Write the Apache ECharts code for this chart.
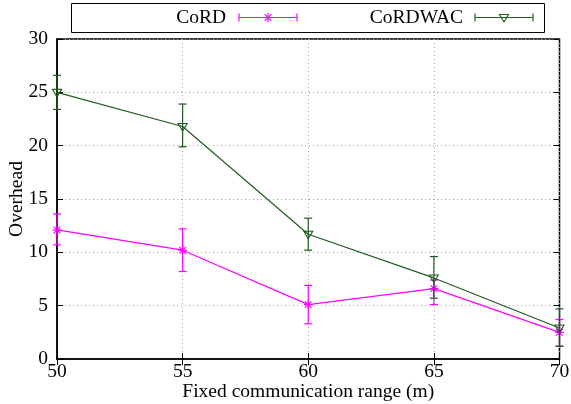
<!DOCTYPE html>
<html><head><meta charset="utf-8">
<script src="https://cdn.jsdelivr.net/npm/echarts@6/dist/echarts.min.js"></script>
<style>html,body{margin:0;padding:0;background:#fff}#c{width:571px;height:404px}</style>
</head><body><div id="c"></div>
<script>
const ranges = [50, 55, 60, 65, 70];
const cordVals = [12.1, 10.2, 5.1, 6.6, 2.5];
const cordLow = [10.7, 8.2, 3.3, 5.1, 1.2];
const cordHigh = [13.6, 12.2, 6.9, 7.4, 3.7];
const wacVals = [25.0, 21.8, 11.7, 7.6, 2.9];
const wacLow = [23.4, 19.9, 10.2, 5.7, 1.2];
const wacHigh = [26.6, 23.9, 13.2, 9.6, 4.7];
const xTicks = [50, 55, 60, 65, 70];
const yTicks = [0, 5, 10, 15, 20, 25, 30];

const MAG = '#ff00ff', GRN = '#1e5c1e';
const FONT = '"Liberation Serif", "DejaVu Serif", serif';
const FS = 19.5;

function ln(x1, y1, x2, y2, color, w) {
  return {type:'line', shape:{x1:x1, y1:y1, x2:x2, y2:y2}, style:{stroke:color, lineWidth:w || 1.2}};
}
function starShape(cx, cy, color) {
  const r = 4.5, d = 3.3;
  return {type:'group', children:[
    ln(cx-r, cy, cx+r, cy, color), ln(cx, cy-r, cx, cy+r, color),
    ln(cx-d, cy-d, cx+d, cy+d, color), ln(cx-d, cy+d, cx+d, cy-d, color)
  ]};
}
function triShape(cx, cy, color) {
  return {type:'polygon', shape:{points:[[cx-4.5,cy-3],[cx+4.5,cy-3],[cx,cy+4.5]]},
    style:{stroke:color, lineWidth:1.1, fill:'rgba(0,0,0,0)'}};
}
function errRender(color, marker) {
  return function(params, api) {
    const x = api.value(0), y = api.value(1), lo = api.value(2), hi = api.value(3);
    const p = api.coord([x, y]), pl = api.coord([x, lo]), ph = api.coord([x, hi]);
    const w = 4;
    return {type:'group', children:[
      ln(p[0], pl[1], p[0], ph[1], color),
      ln(p[0]-w, pl[1], p[0]+w, pl[1], color),
      ln(p[0]-w, ph[1], p[0]+w, ph[1], color),
      marker(p[0], p[1], color)
    ]};
  };
}
function zip4(a,b,c,d){return a.map((v,i)=>[v,b[i],c[i],d[i]]);}
function zip2(a,b){return a.map((v,i)=>[v,b[i]]);}

function legendItem(textRight, x1, x2, y, color, markerFn, label) {
  const mx = (x1 + x2) / 2;
  return [
    {type:'text', x: textRight, y: y, style:{text: label, font: FS + 'px ' + FONT, fill:'#000', textAlign:'right', textVerticalAlign:'middle'}},
    ln(x1, y, x2, y, color), ln(x1, y-4, x1, y+4, color), ln(x2, y-4, x2, y+4, color),
    markerFn(mx, y, color)
  ];
}

const chart = echarts.init(document.getElementById('c'), null, {renderer:'canvas'});
const axisLabelStyle = {fontFamily: FONT, fontSize: FS, color: '#000'};
chart.setOption({
  animation: false,
  backgroundColor: '#fff',
  grid: {left: 57, right: 11.5, top: 39, bottom: 45, containLabel: false, outerBoundsMode: 'none',
    show: true, borderColor: '#000', borderWidth: 1.5, backgroundColor: 'transparent'},
  xAxis: [{
    type: 'value', min: 50, max: 70, interval: 5,
    name: 'Fixed communication range (m)', nameLocation: 'middle', nameGap: 23, nameMoveOverlap: false,
    nameTextStyle: {fontFamily: FONT, fontSize: FS, color: '#000'},
    axisLine: {show: true, lineStyle: {color: '#000', width: 1.5}},
    axisTick: {show: true, inside: true, length: 6, lineStyle: {color: '#000', width: 1}},
    axisLabel: Object.assign({margin: 3, formatter: v => xTicks.includes(v) ? String(v) : ''}, axisLabelStyle),
    splitLine: {show: true, lineStyle: {color: '#a8a8a8', type: [1, 3], width: 1}}
  }, {
    type: 'value', position: 'top', min: 50, max: 70, interval: 5,
    axisLine: {show: false}, axisLabel: {show: false}, splitLine: {show: false},
    axisTick: {show: true, inside: true, length: 6, lineStyle: {color: '#000', width: 1}}
  }],
  yAxis: [{
    type: 'value', min: 0, max: 30, interval: 5,
    name: 'Overhead', nameLocation: 'middle', nameGap: 30, nameRotate: 90, nameMoveOverlap: false,
    nameTextStyle: {fontFamily: FONT, fontSize: FS, color: '#000'},
    axisLine: {show: true, lineStyle: {color: '#000', width: 1.5}},
    axisTick: {show: true, inside: true, length: 6, lineStyle: {color: '#000', width: 1}},
    axisLabel: Object.assign({margin: 9, formatter: v => yTicks.includes(v) ? String(v) : ''}, axisLabelStyle),
    splitLine: {show: true, lineStyle: {color: '#a8a8a8', type: [1, 3], width: 1}}
  }, {
    type: 'value', position: 'right', min: 0, max: 30, interval: 5,
    axisLine: {show: false}, axisLabel: {show: false}, splitLine: {show: false},
    axisTick: {show: true, inside: true, length: 6, lineStyle: {color: '#000', width: 1}}
  }],
  series: [
    {type: 'line', name: 'CoRD', data: zip2(ranges, cordVals), showSymbol: false, lineStyle: {color: MAG, width: 1.2}, z: 3},
    {type: 'line', name: 'CoRDWAC', data: zip2(ranges, wacVals), showSymbol: false, lineStyle: {color: GRN, width: 1.2}, z: 3},
    {type: 'custom', name: 'CoRD err', data: zip4(ranges, cordVals, cordLow, cordHigh), renderItem: errRender(MAG, starShape), clip: false, z: 4},
    {type: 'custom', name: 'CoRDWAC err', data: zip4(ranges, wacVals, wacLow, wacHigh), renderItem: errRender(GRN, triShape), clip: false, z: 4}
  ],
  graphic: {elements: [
    {type: 'rect', shape: {x: 71.5, y: 3.5, width: 473, height: 29}, style: {fill: '#fff', stroke: '#000', lineWidth: 1}},
    ...legendItem(226, 239, 297, 17.5, MAG, starShape, 'CoRD'),
    ...legendItem(463, 475, 533, 17.5, GRN, triShape, 'CoRDWAC')
  ]}
});
</script></body></html>
